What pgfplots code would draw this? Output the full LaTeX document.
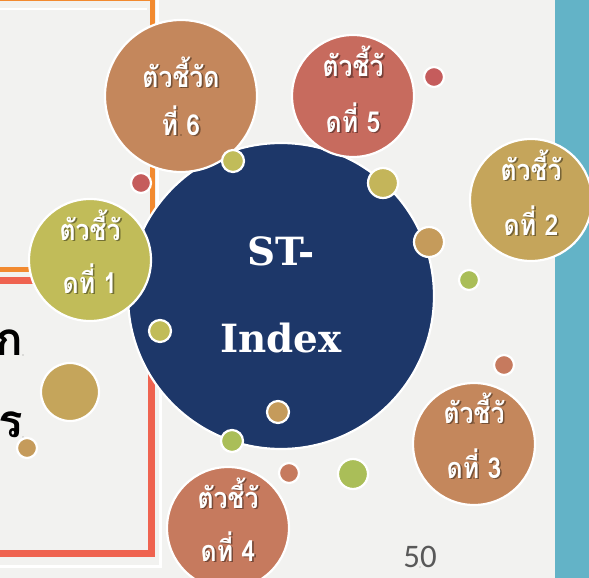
\documentclass[border=0pt]{standalone}
\usepackage{pgfplots}
\pgfplotsset{compat=1.18}
\usepackage{pgfplotstable}
\usepackage{fontspec}
\newfontfamily\thaifont[Script=Thai]{Loma}
\newfontfamily\thainarrow[Script=Thai, FakeStretch=0.86]{Loma}
\newfontfamily\slabfont{DejaVu Serif}
\newfontfamily\numfont{Carlito}

\definecolor{bggray}{HTML}{F2F2F0}
\definecolor{tealbar}{HTML}{63B3C7}
\definecolor{framorange}{HTML}{F28A30}
\definecolor{framred}{HTML}{EF6350}
\definecolor{navy}{HTML}{1D3769}
\definecolor{cbrown}{HTML}{C4875C}
\definecolor{cred}{HTML}{C76B5E}
\definecolor{cgold}{HTML}{C5A55B}
\definecolor{colive}{HTML}{C1BC59}
\definecolor{cterra}{HTML}{C67A5E}
\definecolor{cgreen}{HTML}{AABE58}
\definecolor{crose}{HTML}{C55C5C}
\definecolor{cmustard}{HTML}{C4B55A}
\definecolor{ctan}{HTML}{C59B5B}
\definecolor{pagegray}{HTML}{595959}

% bubbles: centre (pixels, y down), radius, colour class
\pgfplotstableread[col sep=comma]{
x,y,r,c
281,296,153,navy
181,96,76,cbrown
353,96,61,cred
531,200,61,cgold
90,260,61,colive
474,444,61,cbrown
228,528,61,cterra
233,161,11,colive
141,183,10,crose
383,183,15,cmustard
429,242,15,ctan
469,280,10,cgreen
434,77,10,crose
160,331,11,colive
70,392,29,cgold
27,448,10,ctan
278,412,11,ctan
232,441,11,cgreen
289,473,10,cterra
353,474,15,cgreen
504,365,10,cterra
}\bubbles

\pgfplotstableread[col sep=comma]{
x,y,t
181,87,ตัวชี้วัด
181,135,ที่ 6
353,77,ตัวชี้วั
353,132,ดที่ 5
531,180,ตัวชี้วั
531,235,ดที่ 2
90,240,ตัวชี้วั
90,293,ดที่ 1
474,423,ตัวชี้วั
474,478,ดที่ 3
228,508,ตัวชี้วั
228,561,ดที่ 4
}\labels

\pgfplotstableread[col sep=comma]{
x,y,t
281,265,ST-
281,352,Index
}\centre

\begin{document}
\begin{tikzpicture}
\begin{axis}[
    width=589bp, height=578bp,
    scale only axis,
    xmin=0, xmax=589, ymin=0, ymax=578,
    y dir=reverse,
    axis line style={draw=none},
    ticks=none,
    axis background/.style={fill=bggray},
    clip=false,
]
\coordinate (bl) at (axis cs:0,578);
\coordinate (tr) at (axis cs:589,0);

% right bar
\addplot[fill=tealbar, draw=none] coordinates {(555,-2) (595,-2) (595,582) (555,582) (555,-2)};

% left frames
\addplot[draw=white, line width=2.5bp] coordinates {(157.5,-5) (157.5,276)};
\addplot[draw=framorange, line width=5bp] coordinates {(-5,-1.5) (152.5,-1.5) (152.5,269) (-5,269)};
\addplot[draw=white, line width=1.5bp] coordinates {(-5,9) (147,9)};
\addplot[draw=white, line width=2.5bp] coordinates {(-5,566.5) (160.5,566.5) (160.5,276)};
\addplot[draw=framred, line width=7bp] coordinates {(-5,280.5) (151.5,280.5) (151.5,553) (-5,553)};

% cut-off words on the left
\addplot[only marks, mark=*, mark size=0.01pt, mark options={draw=none, fill=none},
    point meta=explicit symbolic, nodes near coords,
    nodes near coords style={anchor=base east, inner sep=0pt, text=black,
        font=\thaifont\bfseries\fontsize{46}{46}\selectfont}]
    table[x=x, y=y, meta=t] {
x y t
23 355 ก
23 437 าร
};

% bubbles
\addplot[scatter, only marks, scatter src=explicit symbolic,
    scatter/classes={
        navy={mark=*, draw=white, fill=navy},
        cbrown={mark=*, draw=white, fill=cbrown},
        cred={mark=*, draw=white, fill=cred},
        cgold={mark=*, draw=white, fill=cgold},
        colive={mark=*, draw=white, fill=colive},
        cterra={mark=*, draw=white, fill=cterra},
        cgreen={mark=*, draw=white, fill=cgreen},
        crose={mark=*, draw=white, fill=crose},
        cmustard={mark=*, draw=white, fill=cmustard},
        ctan={mark=*, draw=white, fill=ctan}},
    mark options={line width=2.2bp},
    visualization depends on={\thisrow{r} \as \rad},
    scatter/@pre marker code/.append style={/tikz/mark size=\rad bp},
    ] table[x=x, y=y, meta=c] {\bubbles};

% bubble labels: shadow then text
\addplot[only marks, mark=*, mark size=0.01pt, mark options={draw=none, fill=none},
    point meta=explicit symbolic, nodes near coords,
    nodes near coords style={anchor=base, inner sep=0pt, text=black, opacity=0.4,
        xshift=1.6bp, yshift=-1.6bp,
        font=\thainarrow\bfseries\fontsize{29}{29}\selectfont}]
    table[x=x, y=y, meta=t] {\labels};
\addplot[only marks, mark=*, mark size=0.01pt, mark options={draw=none, fill=none},
    point meta=explicit symbolic, nodes near coords,
    nodes near coords style={anchor=base, inner sep=0pt, text=white,
        font=\thainarrow\bfseries\fontsize{29}{29}\selectfont}]
    table[x=x, y=y, meta=t] {\labels};

% centre text
\addplot[only marks, mark=*, mark size=0.01pt, mark options={draw=none, fill=none},
    point meta=explicit symbolic, nodes near coords,
    nodes near coords style={anchor=base, inner sep=0pt, text=white,
        font=\slabfont\bfseries\fontsize{39}{39}\selectfont}]
    table[x=x, y=y, meta=t] {\centre};

% page number
\addplot[only marks, mark=*, mark size=0.01pt, mark options={draw=none, fill=none},
    point meta=explicit symbolic, nodes near coords,
    nodes near coords style={anchor=base, inner sep=0pt, text=pagegray,
        font=\numfont\fontsize{33}{33}\selectfont}]
    coordinates {(420,567) [50]};
\end{axis}
\pgfresetboundingbox
\path[use as bounding box] (bl) rectangle (tr);
\end{tikzpicture}
\end{document}
